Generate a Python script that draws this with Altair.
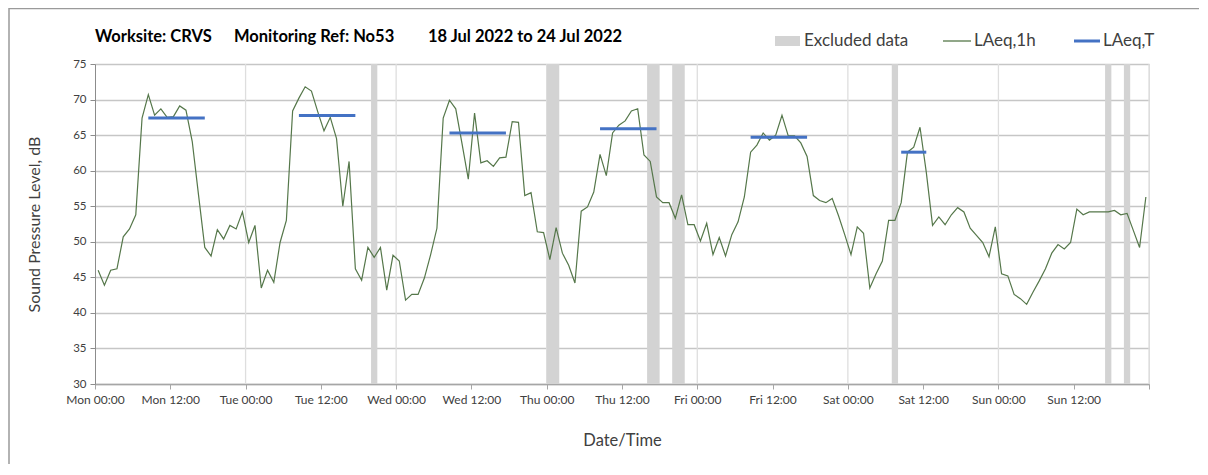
import altair as alt
import pandas as pd

# ---- data ----
hours = [h + 0.5 for h in range(168)]  # hourly periods, plotted mid-hour
laeq_1h = [
    46.0, 43.9, 46.0, 46.2, 50.7, 51.8, 53.8, 67.4, 70.7, 67.8, 68.7, 67.5,
    67.6, 69.1, 68.5, 64.1, 56.6, 49.2, 48.0, 51.7, 50.4, 52.3, 51.8, 54.2,
    49.9, 52.3, 43.5, 46.0, 44.3, 49.9, 53.0, 68.4, 70.2, 71.8, 71.2, 68.3,
    65.6, 67.5, 64.5, 55.0, 61.3, 46.2, 44.6, 49.2, 47.8, 49.2, 43.2, 48.1,
    47.3, 41.8, 42.6, 42.6, 44.9, 48.2, 51.9, 67.4, 69.9, 68.7, 63.8, 58.8,
    68.1, 61.1, 61.4, 60.6, 61.8, 61.9, 66.9, 66.8, 56.5, 56.9, 51.4, 51.3,
    47.5, 52.0, 48.4, 46.7, 44.2, 54.3, 54.9, 57.0, 62.3, 59.3, 65.3, 66.4,
    67.0, 68.4, 68.7, 62.2, 61.3, 56.3, 55.5, 55.5, 53.3, 56.6, 52.4, 52.4,
    50.1, 52.6, 48.2, 50.6, 48.0, 51.0, 52.8, 56.3, 62.6, 63.6, 65.3, 64.3,
    65.0, 67.8, 64.9, 64.9, 63.9, 62.0, 56.5, 55.8, 55.5, 56.1, 53.7, 51.0,
    48.2, 52.1, 51.2, 43.5, 45.5, 47.3, 53.0, 53.0, 55.5, 62.6, 63.3, 66.1,
    59.8, 52.3, 53.5, 52.4, 53.8, 54.8, 54.2, 51.9, 50.9, 49.9, 47.9, 52.1,
    45.5, 45.2, 42.6, 42.0, 41.2, 42.9, 44.5, 46.2, 48.4, 49.6, 49.0, 49.9,
    54.6, 53.8, 54.2, 54.2, 54.2, 54.2, 54.4, 53.8, 54.0, 51.6, 49.2, 56.3,
]
laeqT_start = [8.5, 32.5, 56.5, 80.5, 104.5, 128.5]
laeqT_end = [17.5, 41.5, 65.5, 89.5, 113.5, 132.5]
laeqT_value = [67.4, 67.75, 65.3, 65.9, 64.7, 62.6]
excl_start = [44, 72, 88, 92, 127, 161, 164]
excl_end = [45, 74, 90, 94, 128, 162, 165]
day_lines = [24, 48, 72, 96, 120, 144, 168]
tick_hours = list(range(0, 169, 12))
y_ticks = [30, 35, 40, 45, 50, 55, 60, 65, 70, 75]

W, H = 1054, 320
FONT = "Lato"
GREEN = "#55774a"
BLUE = "#4472C4"
GREY = "#d3d3d3"
TXT = "#404040"

xs = alt.Scale(domain=[0, 168], nice=False, zero=False)
ys = alt.Scale(domain=[30, 75], nice=False, zero=False)

line_df = pd.DataFrame({"h": hours, "v": laeq_1h})
t_df = pd.DataFrame({"s": laeqT_start, "e": laeqT_end, "v": laeqT_value})
ex_df = pd.DataFrame({"s": excl_start, "e": excl_end})
day_df = pd.DataFrame({"d": day_lines})

label_expr = (
    "datum.value >= 168 ? '' : "
    "['Mon','Tue','Wed','Thu','Fri','Sat','Sun'][floor(datum.value/24)] + "
    "(datum.value % 24 == 0 ? ' 00:00' : ' 12:00')"
)

x_axis = alt.Axis(
    values=tick_hours, labelExpr=label_expr, grid=False,
    labelOverlap=False, labelFlush=False, labelBound=False,
    domainColor="#a6a6a6", domainWidth=1.5, tickColor="#a6a6a6", tickSize=5,
    labelFontSize=12, labelColor=TXT, labelFont=FONT, labelPadding=5,
    title="Date/Time", titleFont=FONT, titleFontSize=16.5, titleFontWeight="normal",
    titleColor=TXT, titlePadding=27,
)
y_axis = alt.Axis(
    values=y_ticks, grid=True, gridColor="#c6c6c6", gridWidth=1.3,
    labelOverlap=False, labelFlush=False, labelBound=False,
    domainColor="#8c8c8c", tickColor="#8c8c8c", tickSize=5,
    labelFontSize=11.5, labelColor=TXT, labelFont=FONT, labelPadding=4,
    title="Sound Pressure Level, dB", titleFont=FONT, titleFontSize=16,
    titleFontWeight="normal", titleColor=TXT, titlePadding=30,
)

days = alt.Chart(day_df).mark_rule(color="#dedede", strokeWidth=1.3).encode(
    x=alt.X("d:Q", scale=xs, axis=x_axis)
)
excl = alt.Chart(ex_df).mark_rect(color=GREY).encode(
    x=alt.X("s:Q", scale=xs, axis=x_axis), x2="e:Q", y=alt.value(0), y2=alt.value(H)
)
line = alt.Chart(line_df).mark_line(color=GREEN, strokeWidth=1.2).encode(
    x=alt.X("h:Q", scale=xs, axis=x_axis),
    y=alt.Y("v:Q", scale=ys, axis=y_axis),
)
laeqT = alt.Chart(t_df).mark_rule(color=BLUE, strokeWidth=3).encode(
    x=alt.X("s:Q", scale=xs, axis=x_axis), x2="e:Q",
    y=alt.Y("v:Q", scale=ys, axis=y_axis),
)

one = pd.DataFrame({"k": [0]})


def txt(s, x, y, size, weight="normal", color=TXT):
    return alt.Chart(one).mark_text(
        text=s, align="left", baseline="middle", font=FONT, fontSize=size,
        fontWeight=weight, color=color,
    ).encode(x=alt.value(x), y=alt.value(y))


title_parts = [
    txt("Worksite: CRVS", 0, -27, 16.5, "bold", "#000000"),
    txt("Monitoring Ref: No53", 139, -27, 16.5, "bold", "#000000"),
    txt("18 Jul 2022 to 24 Jul 2022", 333, -27, 16.5, "bold", "#000000"),
]

legend = [
    alt.Chart(one).mark_rect(color=GREY).encode(
        x=alt.value(680), x2=alt.value(705), y=alt.value(-28), y2=alt.value(-18)
    ),
    txt("Excluded data", 709, -23, 17),
    alt.Chart(one).mark_rule(color=GREEN, strokeWidth=1.3).encode(
        x=alt.value(848), x2=alt.value(876), y=alt.value(-23)
    ),
    txt("LAeq,1h", 879, -23, 17),
    alt.Chart(one).mark_rule(color=BLUE, strokeWidth=3).encode(
        x=alt.value(979), x2=alt.value(1005), y=alt.value(-23)
    ),
    txt("LAeq,T", 1008, -23, 17),
]

border = [
    alt.Chart(one).mark_rule(color="#9a9a9a", strokeWidth=1.5).encode(
        x=alt.value(-86), x2=alt.value(1120), y=alt.value(-55.5)
    ),
    alt.Chart(one).mark_rule(color="#9a9a9a", strokeWidth=1.5).encode(
        x=alt.value(-86), y=alt.value(-56), y2=alt.value(420)
    ),
]

chart = alt.layer(
    days, excl, line, laeqT, *title_parts, *legend, *border
).properties(
    width=W, height=H,
    autosize=alt.AutoSizeParams(type="none"),
    padding={"left": 87, "top": 56, "right": 50, "bottom": 80},
).configure_view(stroke=None).configure(background="white")

chart.save("out.html", embed_options={"renderer": "svg", "actions": False})
